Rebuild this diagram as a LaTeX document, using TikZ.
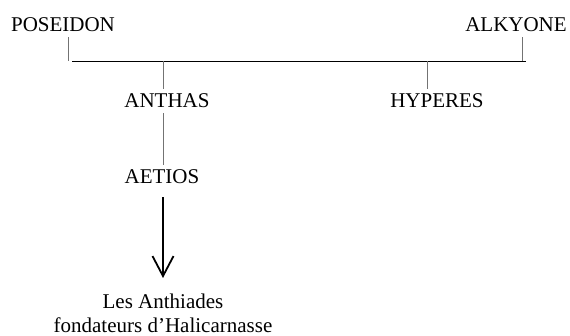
\documentclass[tikz,border=0pt]{standalone}
\usepackage{fontspec}
\setmainfont{Liberation Serif}
\usepackage{tikz}
\usetikzlibrary{arrows.meta,calc}
\definecolor{tickgray}{rgb}{0.45,0.45,0.45}

\begin{document}
\begin{tikzpicture}[x=1pt,y=-1pt,
    person/.style={inner sep=0pt,outer sep=5pt,font=\fontsize{21}{24}\selectfont},
    bar/.style={line width=0.9pt,black},
    tick/.style={line width=0.8pt,draw=tickgray},
    descent/.style={line width=1.8pt,-{Straight Barb[length=20pt,width=21pt,line width=1.8pt]}}]
      \useasboundingbox (0,0) rectangle (570,336);
      % Parents
      \node[person,anchor=base] (poseidon) at (63,32) {POSEIDON};
      \node[person,anchor=base] (alkyone) at (516,32) {ALKYONE};
      % Children
      \node[person,anchor=base] (anthas) at (167,108) {ANTHAS};
      \node[person,anchor=base] (hyperes) at (437,108) {HYPERES};
      \node[person,anchor=base] (aetios) at (162,184) {AETIOS};
      \node[person,anchor=north,align=center] (anthiades) at (163,289) {Les Anthiades\\fondateurs d'Halicarnasse};
      % Marriage bar
      \coordinate (barL) at (72,61);
      \coordinate (barR) at (526,61);
      \coordinate (posT) at (68,61);
      \coordinate (alkT) at (522,61);
      \coordinate (anthT) at (163,61);
      \coordinate (hypT) at (427,61);
      \draw[bar] (barL) -- (barR);
      \draw[tick] (posT |- poseidon.south) -- (posT);
      \draw[tick] (alkT |- alkyone.south) -- (alkT);
      % Descent lines
      \draw[tick] (anthT) -- (anthT |- anthas.north);
      \draw[tick] (hypT) -- (hypT |- hyperes.north);
      \draw[tick] (anthT |- anthas.south) -- (anthT |- aetios.north);
      \draw[descent,shorten <=8pt,shorten >=11pt] (anthT |- aetios.south) -- (anthT |- anthiades.north);
    \end{tikzpicture}
\end{document}
